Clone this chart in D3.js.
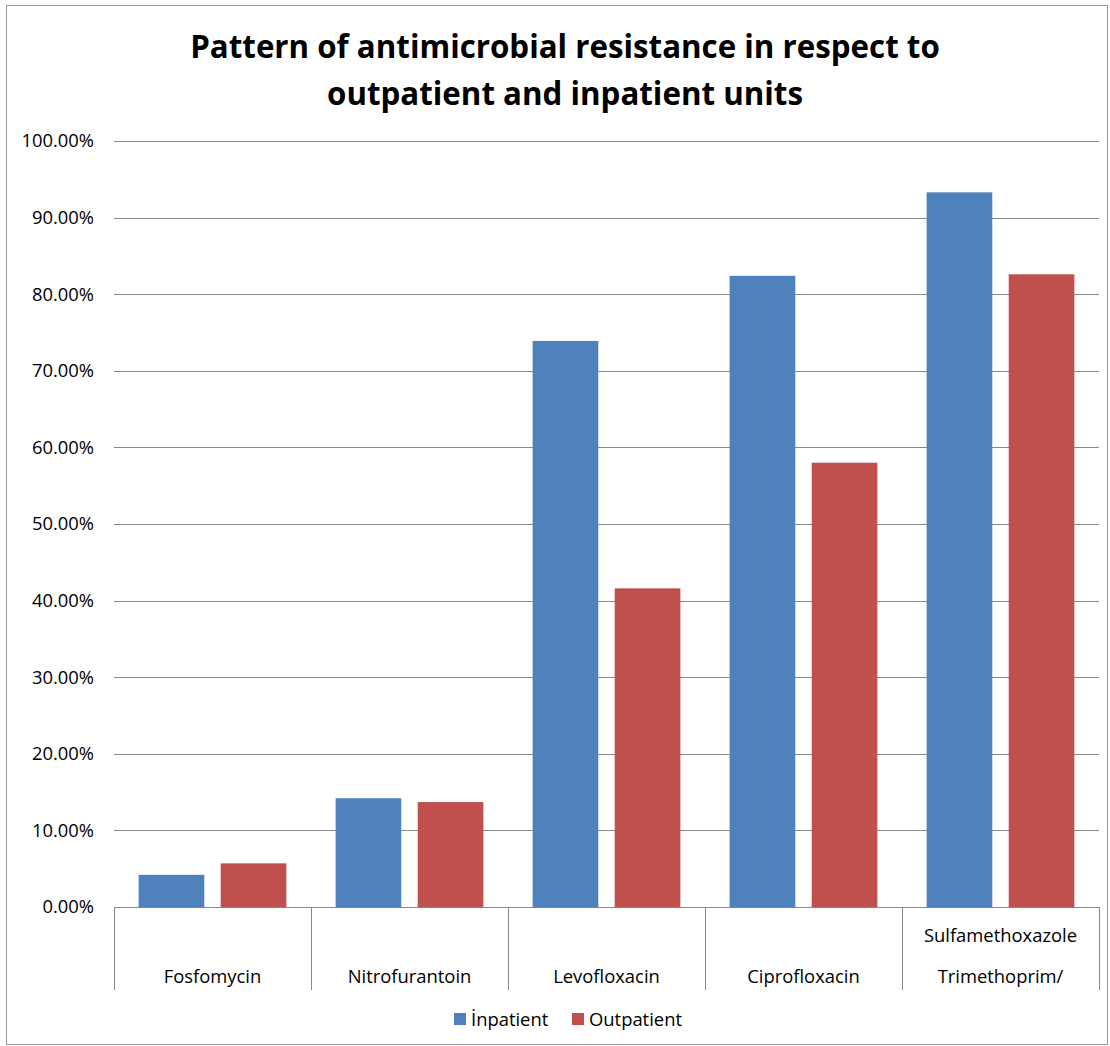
<!DOCTYPE html>
<html><head><meta charset="utf-8">
<script src="https://cdn.jsdelivr.net/npm/d3@7"></script>
<style>body{margin:0;background:#fff;} text{font-family:"Open Sans",sans-serif;}</style>
</head><body>
<svg id="c" width="1110" height="1046"></svg>
<script>
const categories = ["Fosfomycin","Nitrofurantoin","Levofloxacin","Ciprofloxacin","Sulfamethoxazole Trimethoprim/"];
const categoryLines = [["Fosfomycin"],["Nitrofurantoin"],["Levofloxacin"],["Ciprofloxacin"],["Sulfamethoxazole","Trimethoprim/"]];
const seriesNames = ["İnpatient","Outpatient"];
const inpatient = [0.042,0.142,0.739,0.824,0.933];
const outpatient = [0.057,0.137,0.416,0.580,0.826];
const yTicks = [0,0.1,0.2,0.3,0.4,0.5,0.6,0.7,0.8,0.9,1.0];
const colors = ["#4F81BD","#C0504D"];
const titleLines = ["Pattern of antimicrobial resistance in respect to","outpatient and inpatient units"];

const FS = 18.4;
const svg = d3.select("#c");
svg.append("rect").attr("x",6.5).attr("y",5.5).attr("width",1101).attr("height",1039)
  .attr("fill","#fff").attr("stroke","#9a9a9a").attr("stroke-width",1);

const L=114, R=1099, T=141, B=907;
const x = d3.scaleBand().domain(categories).range([L,R]).paddingInner(0).paddingOuter(0);
const y = d3.scaleLinear().domain([0,1]).range([B,T]);
const fmt = d3.format(".2%");

svg.append("g").selectAll("line").data(yTicks.filter(d=>d>0)).join("line")
  .attr("x1",L).attr("x2",R).attr("y1",d=>Math.round(y(d))+0.5).attr("y2",d=>Math.round(y(d))+0.5)
  .attr("stroke","#888").attr("stroke-width",1);

const yAxis = d3.axisLeft(y).tickValues(yTicks).tickFormat(fmt).tickSize(0).tickPadding(20);
const ya = svg.append("g").attr("transform",`translate(${L},0)`).call(yAxis);
ya.select(".domain").remove();
ya.selectAll("text").attr("font-size",FS).attr("fill","#000").attr("font-family","'Open Sans', sans-serif");

const inner = d3.scaleBand().domain([0,1]).range([0,x.bandwidth()]).paddingInner(0.2).paddingOuter(0.3);
const series = [inpatient,outpatient];
series.forEach((vals,si)=>{
  svg.append("g").selectAll("rect").data(vals).join("rect")
    .attr("x",(d,i)=>x(categories[i])+inner(si))
    .attr("width",inner.bandwidth())
    .attr("y",d=>y(d)).attr("height",d=>B-y(d))
    .attr("fill",colors[si]);
});

svg.append("line").attr("x1",L).attr("x2",R).attr("y1",B+0.5).attr("y2",B+0.5).attr("stroke","#888");
const divs = categories.map(c=>x(c)).concat([R]);
svg.append("g").selectAll("line").data(divs).join("line")
  .attr("x1",d=>Math.round(d)+0.5).attr("x2",d=>Math.round(d)+0.5).attr("y1",B).attr("y2",990)
  .attr("stroke","#888");

categoryLines.forEach((lines,i)=>{
  const cx = x(categories[i])+x.bandwidth()/2;
  lines.forEach((ln,j)=>{
    svg.append("text").attr("x",cx).attr("y",983-(lines.length-1-j)*41)
      .attr("text-anchor","middle").attr("font-size",FS).text(ln);
  });
});

const titleWidths = [750,477];
titleLines.forEach((t,i)=>{
  const tx = svg.append("text").attr("x",565).attr("y",58+i*47).attr("text-anchor","middle")
    .attr("font-size",32).attr("font-weight","bold").text(t);
  const w = tx.node().getComputedTextLength();
  if (i===0) svg.attr("data-ts", 32*titleWidths[0]/w);
});
const ts = +svg.attr("data-ts");
svg.selectAll("text[font-weight=bold]").attr("font-size",ts);

const lg = svg.append("g");
const legX = [454,572];
seriesNames.forEach((n,i)=>{
  lg.append("rect").attr("x",legX[i]).attr("y",1013).attr("width",12).attr("height",12).attr("fill",colors[i]);
  lg.append("text").attr("x",legX[i]+17).attr("y",1026).attr("font-size",FS).text(n);
});
</script>
</body></html>
